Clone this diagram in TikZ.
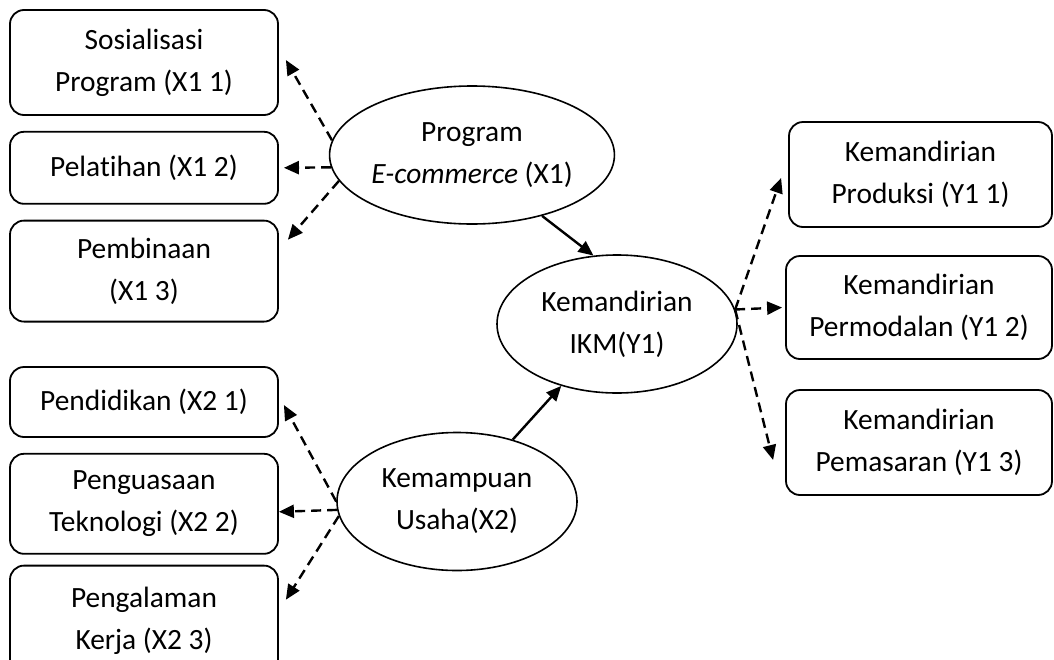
\documentclass[tikz,border=0pt]{standalone}
\usepackage{fontspec}
\setmainfont{Carlito}[Ligatures=NoCommon]
\usetikzlibrary{positioning, arrows.meta, shapes.geometric, calc}

\begin{document}
\begin{tikzpicture}[
        x=0.5pt, y=-0.5pt,
        font=\fontsize{14.7}{21}\selectfont,
        indicator/.style={rectangle, rounded corners=7pt, draw=black, line width=0.9pt, minimum width=134pt, align=center, inner sep=0pt},
        construct/.style={ellipse, draw=black, line width=0.8pt, minimum width=120pt, minimum height=69pt, inner sep=0pt, align=center},
        effect/.style={-{Triangle[length=7.5pt, width=6.5pt]}, line width=1.2pt},
        loading/.style={effect, dash pattern=on 5pt off 3pt}
    ]
        \useasboundingbox (0,0) rectangle (1054,659);
        \fill[white] (0,0) rectangle (1054,659);

        % Constructs
        \node[construct] (x1) at (472,155) {Program\\\textit{E-commerce} (X1)};
        \node[construct] (x2) at (457,501.5) {Kemampuan\\Usaha(X2)};
        \node[construct] (y1) at (617,324) {Kemandirian\\IKM(Y1)};

        % Indicators X1
        \node[indicator, minimum height=52.5pt] (x11) at (144,62.5) {Sosialisasi\\Program (X1 1)};
        \node[indicator, minimum height=36pt, below=7.5pt of x11] (x12) {Pelatihan (X1 2)};
        \node[indicator, minimum height=50.5pt, below=7.5pt of x12] (x13) {Pembinaan\\(X1 3)};

        % Indicators X2
        \node[indicator, minimum height=35pt] (x21) at (144,402) {Pendidikan (X2 1)};
        \node[indicator, minimum height=50pt, below=7.5pt of x21] (x22) {Penguasaan\\Teknologi (X2 2)};
        \node[indicator, minimum height=55pt, below=5pt of x22] (x23) {Pengalaman\\Kerja (X2 3)};

        % Indicators Y1
        \node[indicator, minimum width=131.5pt, minimum height=52.5pt] (y11) at (920.5,174.5) {Kemandirian\\Produksi (Y1 1)};
        \node[indicator, minimum width=133pt, minimum height=51.5pt] (y12) at (919,307.5) {Kemandirian\\Permodalan (Y1 2)};
        \node[indicator, minimum width=133pt, minimum height=52.5pt] (y13) at (919,442.5) {Kemandirian\\Pemasaran (Y1 3)};

        % Structural paths
        \draw[effect] (x1.-41.7) -- (y1.109);
        \draw[effect] (x2.48) -- (y1.228);

        % Loadings X1
        \draw[loading] (x1.174) -- ($(x11.east)+(7,-2.5)$);
        \draw[loading] (x1.185) -- ($(x12.east)+(5,0)$);
        \draw[loading] (x1.191) -- ($(x13.north east)+(9,20)$);

        % Loadings X2
        \draw[loading] (x2.180) -- ($(x21.east)+(5,3)$);
        \draw[loading] (x2.184) -- ($(x22.east)+(0,8)$);
        \draw[loading] (x2.187) -- ($(x23.north east)+(7,35)$);

        % Loadings Y1
        \draw[loading] (y1.7) -- ($(y11.west)+(-7,3.5)$);
        \draw[loading] (y1.7) -- ($(y12.west)+(-3,0)$);
        \draw[loading] (y1.7) -- ($(y13.west)+(-12,17.5)$);
    \end{tikzpicture}
\end{document}
